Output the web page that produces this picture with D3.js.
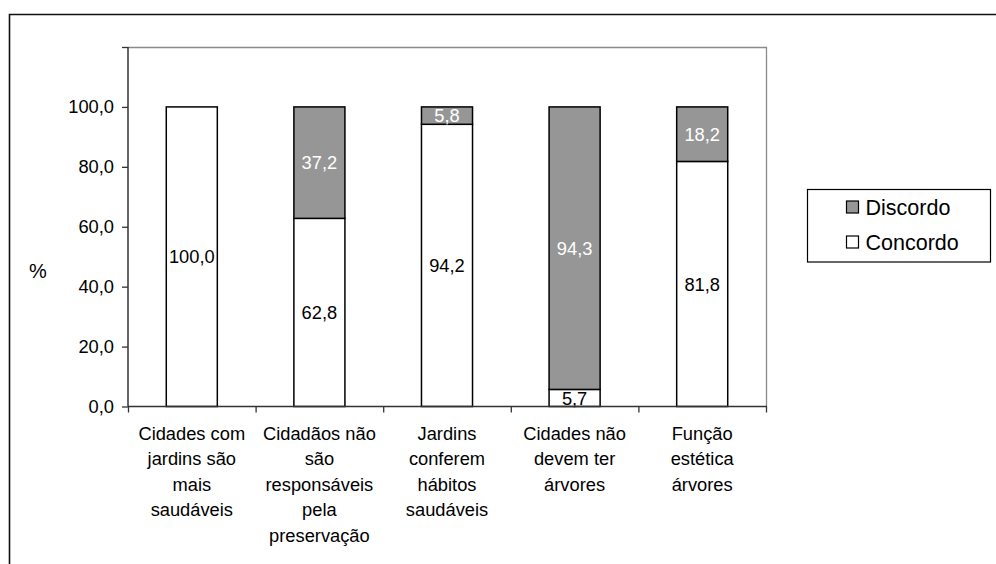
<!DOCTYPE html>
<html>
<head>
<meta charset="utf-8">
<script src="https://cdn.jsdelivr.net/npm/d3@7"></script>
<style>
  html, body { margin: 0; padding: 0; background: #fff; }
  svg { display: block; font-family: "Liberation Sans", Arial, sans-serif; }
</style>
</head>
<body>
<svg id="chart" width="996" height="564"></svg>
<script>
// Survey answers per statement (percentages)
const categories = [
  ["Cidades com", "jardins são", "mais", "saudáveis"],
  ["Cidadãos não", "são", "responsáveis", "pela", "preservação"],
  ["Jardins", "conferem", "hábitos", "saudáveis"],
  ["Cidades não", "devem ter", "árvores"],
  ["Função", "estética", "árvores"]
];
const concordo = [100.0, 62.8, 94.2, 5.7, 81.8];
const discordo = [0.0, 37.2, 5.8, 94.3, 18.2];
const seriesNames = ["Concordo", "Discordo"];
const yTicks = [0, 20, 40, 60, 80, 100, 120];

const fmt = v => d3.format(".1f")(v).replace(".", ",");

const svg = d3.select("#chart");
const fontSize = 18.3;
const legendFont = 21.5;

// outer frame
svg.append("path")
  .attr("d", "M9.5,564 L9.5,14.5 L996,14.5")
  .attr("fill", "none").attr("stroke", "#111").attr("stroke-width", 1.6);

const plot = { left: 128, right: 766, top: 47, bottom: 406.5 };

const x = d3.scaleBand().domain(d3.range(categories.length))
  .range([plot.left, plot.right]).paddingInner(0).paddingOuter(0);
const y = d3.scaleLinear().domain([0, 120]).range([plot.bottom, plot.top]);

// plot area top & right border
svg.append("path")
  .attr("d", `M${plot.left},${plot.top + 0.5} L${plot.right + 0.5},${plot.top + 0.5} L${plot.right + 0.5},${plot.bottom}`)
  .attr("fill", "none").attr("stroke", "#8a8a8a").attr("stroke-width", 1.3);

// stacked bars
const stack = d3.stack().keys(seriesNames)(
  concordo.map((c, i) => ({ Concordo: c, Discordo: discordo[i] }))
);
const fills = { Concordo: "#ffffff", Discordo: "#969696" };
const labelColors = { Concordo: "#000000", Discordo: "#ffffff" };
const barW = x.bandwidth() * 0.4;

stack.forEach(layer => {
  const g = svg.append("g");
  layer.forEach((d, i) => {
    const v = d[1] - d[0];
    if (v <= 0) return;
    const cx = x(i) + x.bandwidth() / 2;
    g.append("rect")
      .attr("x", cx - barW / 2)
      .attr("y", y(d[1]))
      .attr("width", barW)
      .attr("height", y(d[0]) - y(d[1]))
      .attr("fill", fills[layer.key])
      .attr("stroke", "#000").attr("stroke-width", 1.5);
  });
});
stack.forEach(layer => {
  layer.forEach((d, i) => {
    const v = d[1] - d[0];
    if (v <= 0) return;
    const cx = x(i) + x.bandwidth() / 2;
    svg.append("text")
      .attr("x", cx)
      .attr("y", (y(d[0]) + y(d[1])) / 2)
      .attr("dy", "0.36em")
      .attr("text-anchor", "middle")
      .attr("font-size", fontSize)
      .attr("fill", labelColors[layer.key])
      .text(fmt(v));
  });
});

// y axis
const yAxis = svg.append("g")
  .attr("transform", `translate(${plot.left},0)`)
  .call(d3.axisLeft(y).tickValues(yTicks).tickSize(6).tickPadding(8)
    .tickFormat(d => d === 120 ? "" : fmt(d)));
yAxis.select(".domain").attr("stroke", "#333").attr("stroke-width", 1.5).attr("d", `M0,${plot.top}V${plot.bottom}`);
yAxis.selectAll(".tick line").attr("stroke", "#333").attr("stroke-width", 1.3);
yAxis.selectAll(".tick text").attr("font-size", fontSize).attr("fill", "#000")
  .attr("font-family", "Liberation Sans, Arial, sans-serif");

// x axis with ticks at category boundaries
const xAxisG = svg.append("g").attr("transform", `translate(0,${plot.bottom})`);
xAxisG.append("line").attr("x1", plot.left).attr("x2", plot.right + 1)
  .attr("stroke", "#333").attr("stroke-width", 1.5);
d3.range(categories.length + 1).forEach(i => {
  const xp = i < categories.length ? x(i) : plot.right;
  xAxisG.append("line").attr("x1", xp + 0.5).attr("x2", xp + 0.5)
    .attr("y1", 0).attr("y2", 6).attr("stroke", "#333").attr("stroke-width", 1.3);
});

// category labels
categories.forEach((lines, i) => {
  const t = svg.append("text")
    .attr("text-anchor", "middle")
    .attr("font-size", fontSize)
    .attr("fill", "#000");
  lines.forEach((ln, k) => {
    t.append("tspan")
      .attr("x", x(i) + x.bandwidth() / 2)
      .attr("y", 439.5 + k * 25.5)
      .text(ln);
  });
});

// axis title
svg.append("text").attr("x", 38).attr("y", 278)
  .attr("text-anchor", "middle").attr("font-size", 20).text("%");

// legend
const lg = svg.append("g");
lg.append("rect").attr("x", 807.5).attr("y", 189.5).attr("width", 183).attr("height", 72.5)
  .attr("fill", "#fff").attr("stroke", "#000").attr("stroke-width", 1.2);
const legendItems = [
  { name: "Discordo", fill: fills.Discordo, cy: 207 },
  { name: "Concordo", fill: fills.Concordo, cy: 242 }
];
legendItems.forEach(it => {
  lg.append("rect").attr("x", 846.5).attr("y", it.cy - 6).attr("width", 12).attr("height", 12)
    .attr("fill", it.fill).attr("stroke", "#000").attr("stroke-width", 1.2);
  lg.append("text").attr("x", 865.5).attr("y", it.cy).attr("dy", "0.36em")
    .attr("font-size", legendFont).attr("fill", "#000").text(it.name);
});
</script>
</body>
</html>
